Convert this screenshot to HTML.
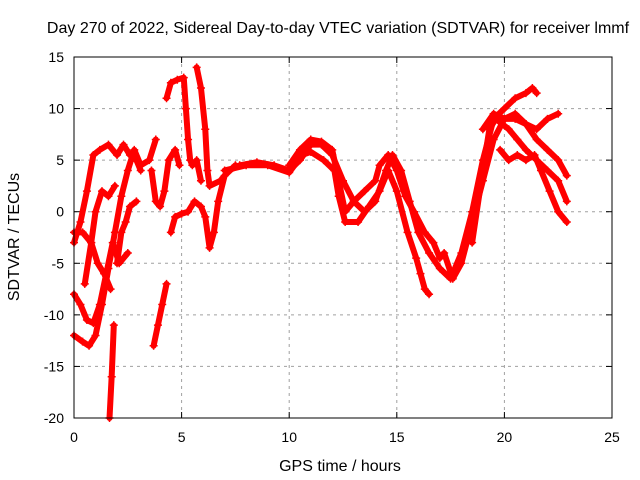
<!DOCTYPE html>
<html><head><meta charset="utf-8"><style>
body{margin:0;background:#fff}
svg{display:block;font-family:"Liberation Sans",sans-serif;font-size:13px}
</style></head><body>
<svg id="chart" width="640" height="480">
<rect x="0" y="0" width="640" height="480" fill="#fff"/>
<text x="338" y="33" text-anchor="middle" font-size="16">Day 270 of 2022, Sidereal Day-to-day VTEC variation (SDTVAR) for receiver lmmf</text>
<text x="340" y="471" text-anchor="middle" font-size="16">GPS time / hours</text>
<text x="19" y="237" text-anchor="middle" font-size="16" transform="rotate(-90 19 237)">SDTVAR / TECUs</text>
<g id="grid"></g>
<g id="ticks"></g>
<g id="series"></g>
<rect x="74" y="57" width="538" height="361" fill="none" stroke="#000" stroke-width="1"/>
</svg>
<script>
const xTicks = [0,5,10,15,20,25];
const yTicks = [-20,-15,-10,-5,0,5,10,15];
const track1 = [[0,-12],[0.4,-12.6],[0.7,-13],[1.0,-12],[1.3,-9],[1.6,-5.5],[1.9,-2],[2.2,1.5],[2.5,4],[2.8,6],[3.1,4.5],[3.5,5],[3.8,7]];
const track2 = [[0,-3],[0.3,-1],[0.6,2],[0.9,5.5],[1.2,6],[1.6,6.5],[2.0,5.5],[2.3,6.5],[2.6,5.5],[2.9,5],[3.1,4]];
const track3 = [[0,-2],[0.4,-2],[0.8,-3],[1.1,-5],[1.4,-6],[1.7,-7.5]];
const track4 = [[0.5,-7],[0.8,-3],[1.0,0],[1.3,2],[1.6,1.5],[1.9,2.5]];
const track5 = [[1.65,-20],[1.75,-16],[1.85,-11]];
const track6 = [[2.0,-5],[2.2,-2],[2.4,-1],[2.6,0.5],[2.9,1]];
const track7 = [[3.7,-13],[3.9,-11],[4.1,-9],[4.3,-7]];
const track8 = [[3.6,4],[3.8,1],[4.0,0.5],[4.2,2],[4.4,5],[4.7,6],[4.9,4.5]];
const track9 = [[4.3,11],[4.5,12.5],[4.8,12.8],[5.1,13],[5.2,10],[5.3,7],[5.4,5],[5.5,4.5],[5.7,5],[5.9,3]];
const track10 = [[4.5,-2],[4.7,-0.5],[5.0,-0.2],[5.3,0],[5.6,1],[5.9,0.5],[6.1,-0.5],[6.3,-3.5],[6.5,-2],[6.7,1],[7.0,3.5],[7.5,4.5]];
const track11 = [[5.7,14],[5.9,12],[6.1,8],[6.2,4],[6.3,2.5],[6.8,3],[7.2,4],[7.7,4.5],[8.5,4.8],[9.3,4.5],[10,4],[10.5,5],[11,6.5],[11.5,6.5],[12,5.5],[12.5,3],[13,1],[13.5,0],[14,1],[14.5,4],[14.8,5.5],[15.2,4],[15.6,1],[16.0,-2],[16.5,-4],[17,-5.5],[17.5,-6.5],[18,-4],[18.5,0],[19,5],[19.5,9],[20,10],[20.5,11],[21,11.5],[21.3,12],[21.5,11.5]];
const track12 = [[7,4],[8,4.5],[9,4.5],[10,3.8],[10.6,5.5],[11,5.8],[11.6,5],[12.1,4],[12.3,1.5],[12.6,-1],[13.2,-1],[13.7,0.5],[14.2,2],[14.6,4],[15,2],[15.5,-2],[15.9,-4.5],[16.1,-6],[16.3,-7.5],[16.5,-8]];
const track13 = [[10,4.5],[10.5,6],[11,7],[11.5,6.8],[12,6],[12.3,3],[12.6,0],[13,1],[13.5,2],[14,3],[14.2,4.5],[14.6,5.5],[15.0,4],[15.4,1.5],[15.8,0],[16.3,-2],[16.7,-3],[17,-4.5],[17.2,-4],[17.6,-6.5],[18,-5],[18.5,-1],[19,3],[19.5,7],[20,9],[20.5,9.5],[21,8.5],[21.5,8],[22,9],[22.5,9.5]];
const track14 = [[18.5,-3],[19,4],[19.3,8],[19.6,9],[20.2,8],[20.6,7],[21,6],[21.5,5],[22,4],[22.5,3],[22.9,1]];
const track15 = [[19.8,6],[20.2,5],[20.6,5.5],[21,5],[21.4,5.5],[21.7,4],[22.1,2],[22.5,0],[22.9,-1]];
const track16 = [[19,8],[19.5,9.5],[20,9],[20.5,9],[21,8.5],[21.5,7],[22,6],[22.5,5],[22.9,3.5]];
const track17 = [[0,-8],[0.3,-9],[0.6,-10.5],[0.9,-10.8],[1.2,-9],[1.5,-6],[1.8,-3],[2.1,-5],[2.5,-4]];
const tracks = [track1,track2,track3,track4,track5,track6,track7,track8,track9,track10,track11,track12,track13,track14,track15,track16,track17];

const X0=74,X1=612,Y0=418,Y1=57;
const sx = t => X0 + (t-0)/(25-0)*(X1-X0);
const sy = v => Y0 - (v+20)/(35)*(Y0-Y1);
const NS="http://www.w3.org/2000/svg";
const grid=document.getElementById('grid'), ticks=document.getElementById('ticks'), ser=document.getElementById('series');
function mk(tag,attrs,parent){const e=document.createElementNS(NS,tag);for(const k in attrs)e.setAttribute(k,attrs[k]);parent.appendChild(e);return e;}
xTicks.forEach(t=>{
  const x=sx(t);
  if(t>0&&t<25){const g=mk('line',{x1:x,x2:x,y1:Y1,y2:Y0,stroke:'#a0a0a0','stroke-dasharray':'3,4'},grid);
  
  }
  mk('line',{x1:x,x2:x,y1:Y0,y2:Y0-6,stroke:'#000'},ticks);
  mk('line',{x1:x,x2:x,y1:Y1,y2:Y1+6,stroke:'#000'},ticks);
  const l=mk('text',{x:x,y:Y0+24,'text-anchor':'middle','font-size':'14'},ticks);l.textContent=t;
  
  
});
yTicks.forEach(v=>{
  const y=sy(v);
  if(v>-20&&v<15){const g=mk('line',{x1:X0,x2:X1,y1:y,y2:y,stroke:'#a0a0a0','stroke-dasharray':'3,4'},grid);
  
  }
  mk('line',{x1:X0,x2:X0+6,y1:y,y2:y,stroke:'#000'},ticks);
  mk('line',{x1:X1,x2:X1-6,y1:y,y2:y,stroke:'#000'},ticks);
  const l=mk('text',{x:X0-10,y:y+5,'text-anchor':'end','font-size':'14'},ticks);l.textContent=v;
  
  
});
tracks.forEach((tr,i)=>{
  const p=mk('polyline',{points:tr.map(d=>sx(d[0])+','+sy(d[1])).join(' '),fill:'none',stroke:'#ff0000','stroke-width':'6','stroke-linejoin':'round','stroke-linecap':'round'},ser);
  
  
  tr.forEach(d=>{
    const x=sx(d[0]),y=sy(d[1]);
    const m=mk('path',{d:`M${x-4},${y}H${x+4}M${x},${y-4}V${y+4}`,stroke:'#ff0000','stroke-width':'1.5'},ser);
    
    
  });
});
</script>
</body></html>
